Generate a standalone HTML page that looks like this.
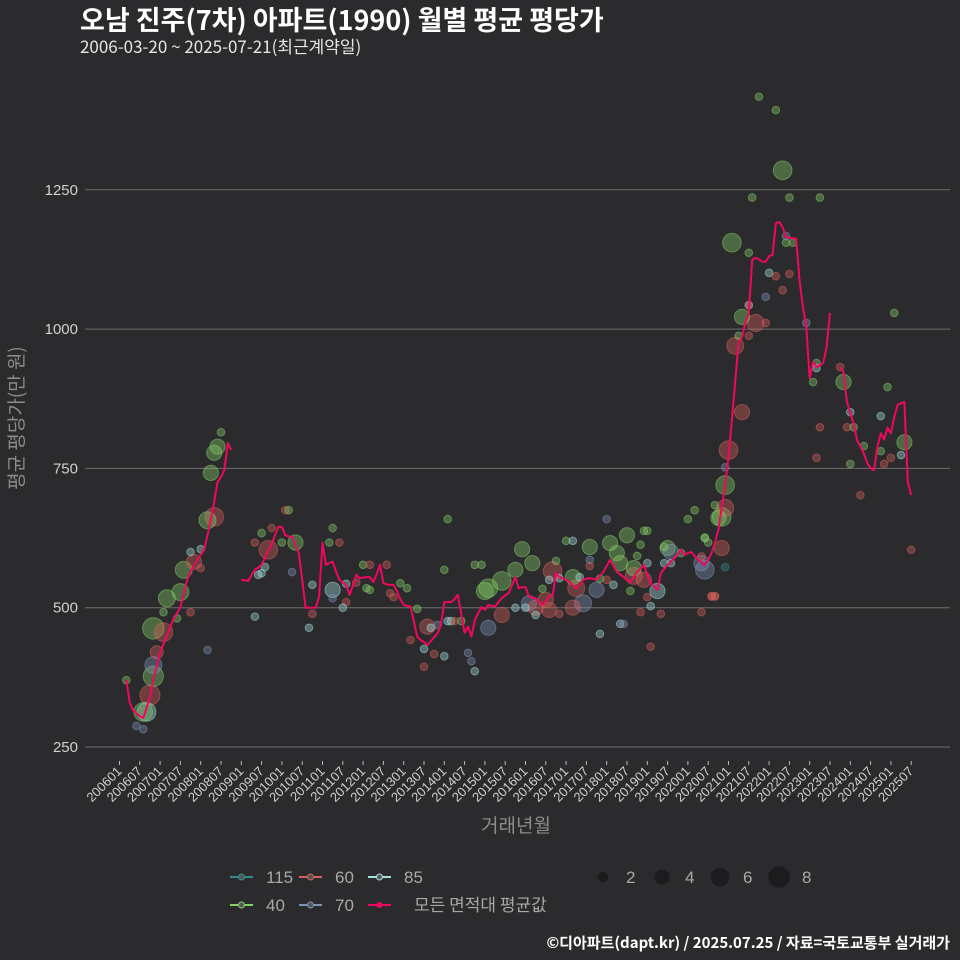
<!DOCTYPE html>
<html><head><meta charset="utf-8">
<style>
body{margin:0;background:#2b2b2d;}
svg{display:block;font-family:"Liberation Sans","Noto Sans CJK KR",sans-serif;}
</style></head>
<body>
<svg id="chart" width="960" height="960" viewBox="0 0 960 960" xmlns="http://www.w3.org/2000/svg">
<rect width="960" height="960" fill="#2b2b2d"/>
<text x="80" y="30" fill="#ffffff" font-size="27" font-weight="bold" font-family="Noto Sans CJK KR, sans-serif">오남 진주(7차) 아파트(1990) 월별 평균 평당가</text>
<text x="80" y="53" fill="#e6e6e6" font-size="17" font-family="Noto Sans CJK KR, sans-serif">2006-03-20 ~ 2025-07-21(최근계약일)</text>
<g id="grid"></g>
<g id="xaxis"></g>
<g id="points"></g>
<path id="avgline" fill="none" stroke="#f0085e" stroke-width="2" stroke-linejoin="round"/>
<text transform="translate(23,418) rotate(-90)" text-anchor="middle" fill="#8c8c8c" font-size="19" font-family="Noto Sans CJK KR, sans-serif">평균 평당가(만 원)</text>
<text x="516" y="832" text-anchor="middle" fill="#8c8c8c" font-size="19" font-family="Noto Sans CJK KR, sans-serif">거래년월</text>
<g id="legend"></g>
<text x="950" y="948" text-anchor="end" fill="#ffffff" font-size="15" font-weight="bold" font-family="Noto Sans CJK KR, sans-serif">©디아파트(dapt.kr) / 2025.07.25 / 자료=국토교통부 실거래가</text>
</svg>
<script>
const yTicks=[250,500,750,1000,1250];
const xTickLabels=[];for(let y=2006;y<=2025;y++){xTickLabels.push(y+"01");xTickLabels.push(y+"07");}
const avgStart="200601";
const avgValues=[
null,null,370,330,316,311,305,302,320,340,370,395,
419,435,450,465,480,490,501,525,550,565,575,586,
595,604,630,657,690,726,735,747,795,783,null,null,
550,549,548,558,568,572,577,590,604,615,630,645,
645,630,628,627,612,598,550,500,500,500,500,520,
617,577,580,583,565,550,545,541,523,540,559,553,
554,555,555,546,560,577,544,542,541,541,530,515,
505,503,502,475,448,442,438,433,440,447,454,469,
510,510,510,515,523,490,455,466,448,478,490,501,
496,505,503,502,510,517,522,526,540,555,535,537,
537,520,518,517,511,505,512,520,521,562,555,553,
550,546,540,535,542,550,552,553,552,550,557,564,
575,586,575,564,560,555,550,546,555,564,570,577,
559,544,538,532,562,570,577,583,589,597,604,595,
598,600,593,586,581,577,586,598,617,640,680,720,
770,837,908,975,986,1011,1029,1124,1128,1125,1121,1121,
1131,1133,1190,1192,1183,1165,1164,1163,1162,1088,1040,1004,
912,941,932,935,939,968,1029,null,null,932,923,870,
849,830,800,789,777,760,750,747,789,813,802,823,
813,842,864,867,869,725,702];
const ptMonths=["200603","200606","200608","200609","200608","200610","200611","200611","200612","200611","200702","200703","200707","200708","200711","200803","200805","200804","200805","200806","200807","200803","200710","200801","200801","200710","200702","200706",
"200909","201005","201002","201003","200907","200910","200905","201001","200906","200907","200908","201004","200905","201010","201009","201010","201104","201104","201103","201104","201106","201108","201111","201108","201107","201201","201203","201208","201202","201203","201212","201302","201209","201210","201305","201308","201309","201311","201303","201307","201310","201307","201401","201402","201401","201402","201403","201406","201404","201408","201409","201410",
"201502","201501","201506","201510","201512","201603","201609","201703","201704","201710","201708","201802","201804","201805","201807","201809","201809","201812","201904","201907","201908","202005","202006","201602","201604","201607","201608","201703","201706","201506","201502","202010",
"201410","201412","201510","201601","201604","201611","201701","201703","201801","201812","201901","201811","201810","201901","201906","201908","201906","201911","202001","202003","202007","202006","202008","202009","202005","201902","201905","201811","201901","201805","201806","201711","201902","201708","201708","201611","201606","201610","201808","201801","201803","201711","201608","201705",
"202102","202011","202101","202012","202011","202012","202103","202105","202105","202109","202107","202107","202112","202104","202107","202107","202108","202207","202304","202206","202208","202206","202201","202203","202207","202205","202112","202212","202303","202303","202302","202304","202303","202310","202311","202401","202312","202402","202405","202401","202404","202412","202410","202410","202411","202501","202504","202505","202502","202507","202005","202012","202012","202009","202006","202008","202009","202110","202203","202205"];
const ptValues=[370,288,282,313,313,343,377,397,420,463,456,517,528,568,582,657,663,742,778,789,815,424,492,571,605,600,492,481,
604,617,675,675,634,643,617,617,559,562,573,564,484,541,464,489,532,517,617,643,617,543,545,510,500,577,577,577,535,532,544,535,526,519,498,466,464,469,442,426,417,394,413,659,568,476,476,476,476,419,404,386,
535,530,548,568,605,580,566,555,535,532,609,616,598,580,630,571,557,550,530,607,600,580,568,508,500,514,496,500,508,487,464,661,
577,577,500,500,487,489,620,620,659,638,638,613,593,580,580,580,609,598,659,675,617,626,520,520,492,503,489,492,519,471,471,453,430,586,575,553,534,584,530,550,541,552,550,555,
1155,607,783,720,663,679,970,851,1022,1011,1043,1043,1011,988,988,1137,1236,1236,1236,1155,1155,1167,1101,1095,1099,1070,1058,1011,939,930,905,824,769,932,905,851,824,824,790,758,702,896,844,781,758,769,774,797,1029,604,592,752,573,684,625,521,521,1417,1393,1285];
const ptAreas=["40","70","70","85","40","60","40","70","60","40","60","40","40","40","60","40","60","40","40","40","40","70","60","60","85","85","40","40",
"60","40","60","40","40","60","60","40","85","85","85","70","85","85","85","60","85","70","40","40","60","85","60","60","85","40","60","60","40","40","40","40","60","60","40","60","85","70","60","85","60","60","85","40","40","85","85","40","60","70","70","85",
"40","40","40","40","40","40","60","40","60","70","40","40","40","40","40","40","60","60","85","40","70","70","70","70","60","60","60","60","70","60","70","40",
"40","40","85","85","85","60","40","85","70","40","40","40","40","85","85","85","40","40","40","40","40","40","60","60","60","85","60","60","60","85","70","85","60","70","60","85","40","40","40","60","85","40","85","85",
"40","60","60","40","40","60","60","60","40","60","85","60","60","40","60","40","40","40","40","40","40","70","85","60","60","60","70","70","40","85","40","60","60","60","40","85","60","40","40","40","60","40","85","40","60","60","85","40","40","60","60","70","115","40","40","60","60","40","40","40"];
const ptCounts=[1,1,1,6,6,7,7,5,3,8,6,5,5,5,4,5,6,4,4,4,1,1,1,1,1,1,1,1,
6,4,1,1,1,1,1,1,1,1,1,1,1,1,1,1,4,1,1,1,1,1,1,1,1,1,1,1,1,1,1,1,1,1,1,4,1,1,1,1,1,1,1,1,1,1,1,1,1,1,1,1,
6,5,6,4,4,4,6,4,5,4,4,4,4,4,4,4,5,4,4,4,4,4,6,4,4,4,4,4,5,4,4,4,
1,1,1,1,1,1,1,1,1,1,1,1,1,1,1,1,1,1,1,1,1,1,1,1,1,1,1,1,1,1,1,1,1,1,1,1,1,1,1,1,1,1,1,1,
6,4,6,6,6,5,5,4,4,5,1,1,1,1,1,1,1,1,1,1,1,1,1,1,1,1,1,1,1,1,1,1,1,1,4,1,1,1,1,1,1,1,1,1,1,1,1,4,1,1,1,1,1,1,1,1,1,1,1,6];
const areaNames=["115","60","85","40","70"];
const areaColors={"115":"#2f8f8c","60":"#d8605c","85":"#a6e0e0","40":"#86cf68","70":"#7f93b8"};
const sizeLegend=[2,4,6,8];

const NS="http://www.w3.org/2000/svg";
const X0=119.5, MW=20.3/6, Y250=747, PXU=139.3/250;
function monthIdx(s){return (parseInt(s.slice(0,4))-2006)*12+parseInt(s.slice(4,6))-1;}
function xs(s){return X0+monthIdx(s)*MW;}
function xm(i){return X0+i*MW;}
function ys(v){return Y250-(v-250)*PXU;}
function rs(c){return 3.8*Math.sqrt(c);}
function mk(t,a,p){const e=document.createElementNS(NS,t);for(const k in a)e.setAttribute(k,a[k]);p.appendChild(e);return e;}

const grid=document.getElementById('grid');
yTicks.forEach(v=>{
 const l=mk('line',{x1:85,x2:950,y1:ys(v),y2:ys(v),stroke:'#6e6e6e','stroke-width':1},grid);
 
 
 const t=mk('text',{x:78,y:ys(v)+5,'text-anchor':'end',fill:'#d0d0d0','font-size':15},grid);
 
 
 t.textContent=v;
});
const xa=document.getElementById('xaxis');
xTickLabels.forEach(s=>{
 const x=xs(s);
 const tk=mk('line',{x1:x,x2:x,y1:761,y2:765,stroke:'#bbbbbb','stroke-width':1},xa);
 
 
 const t=mk('text',{transform:`translate(${x+3},${772}) rotate(-45)`,'text-anchor':'end',fill:'#d0d0d0','font-size':13},xa);
 
 
 t.textContent=s;
});
const pg=document.getElementById('points');
const order=ptCounts.map((c,i)=>i).sort((a,b)=>ptCounts[b]-ptCounts[a]);
order.forEach(i=>{
 const col=areaColors[ptAreas[i]];
 const c=mk('circle',{cx:xs(ptMonths[i]),cy:ys(ptValues[i]),r:rs(ptCounts[i]),fill:col,'fill-opacity':0.38,stroke:col,'stroke-opacity':0.5,'stroke-width':1},pg);
 
 
});
const st=monthIdx(avgStart);let d='',pen=false;
avgValues.forEach((v,i)=>{
 if(v===null){pen=false;return;}
 d+=(pen?'L':'M')+xm(st+i).toFixed(1)+','+ys(v).toFixed(1);pen=true;
});
document.getElementById('avgline').setAttribute('d',d);

const lg=document.getElementById('legend');
const lpos=[[230,877],[299,877],[368,877],[230,905],[299,905]];
areaNames.forEach((a,i)=>{
 const [x,y]=lpos[i];const col=areaColors[a];
 const g=mk('g',{},lg);
 
 
 mk('line',{x1:x,x2:x+23,y1:y,y2:y,stroke:col,'stroke-width':2},g);
 mk('circle',{cx:x+11.5,cy:y,r:3,fill:'#555',stroke:col},g);
 const t=mk('text',{x:x+36,y:y+6,fill:'#a8a8a8','font-size':17},g);
 t.textContent=a;
});
{
 const g=mk('g',{},lg);
 
 
 mk('line',{x1:368,x2:391,y1:905,y2:905,stroke:'#f0085e','stroke-width':2},g);
 mk('circle',{cx:379.5,cy:905,r:3,fill:'#f0085e'},g);
 const t=mk('text',{x:414,y:911,fill:'#a8a8a8','font-size':17,'font-family':'Noto Sans CJK KR, sans-serif'},g);
 t.textContent='모든 면적대 평균값';
}
const spos=[603,662,720,779];
sizeLegend.forEach((s,i)=>{
 const g=mk('g',{},lg);
 
 
 mk('circle',{cx:spos[i],cy:877,r:rs(s),fill:'#1c1c1e'},g);
 const t=mk('text',{x:spos[i]+23,y:883,fill:'#a8a8a8','font-size':17},g);
 t.textContent=s;
});
</script>
</body></html>
